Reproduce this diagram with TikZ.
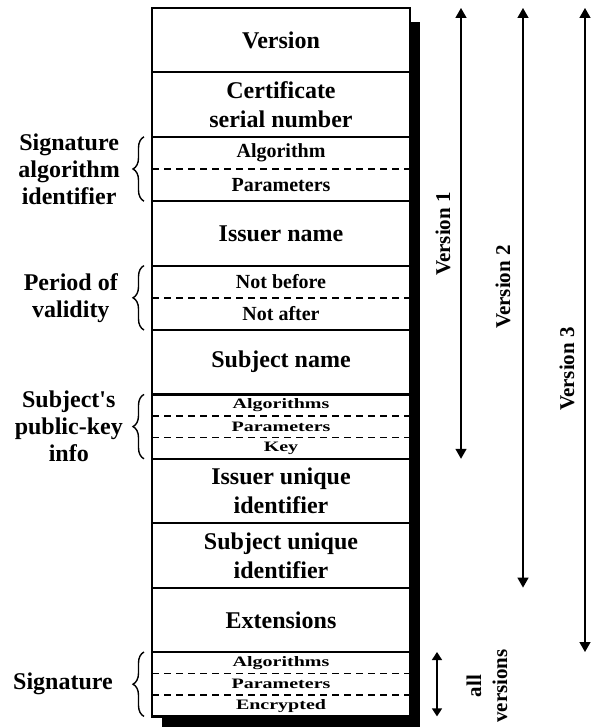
\documentclass[tikz,border=0pt]{standalone}
\usepackage{fontspec}
\setmainfont{Liberation Serif}
\usepackage{graphicx}
\usepackage{tikz}
\usetikzlibrary{calc,positioning,arrows.meta,decorations.pathreplacing}

\newcommand{\fldfont}{\fontsize{24}{29}\selectfont\bfseries}
\newcommand{\prtfont}{\fontsize{20}{24}\selectfont\bfseries}
\newcommand{\lblfont}{\fontsize{24}{27}\selectfont\bfseries}
\newcommand{\verfont}{\fontsize{21}{26}\selectfont\bfseries}
\newcommand{\squash}[1]{\scalebox{1}[0.72]{\prtfont #1}}

\tikzset{
  field/.style={draw, line width=2.2pt, fill=white, minimum width=258pt,
    minimum height=64.4pt, inner sep=0pt, outer sep=0pt, align=center, font=\fldfont},
  part/.style={inner sep=0pt, font=\prtfont},
  divider/.style={line width=1.5pt, dash pattern=on 7pt off 5pt},
  curly/.style={decorate, decoration={brace, amplitude=11pt}, line width=1.4pt},
  lbl/.style={align=center, font=\lblfont, inner sep=0pt},
  verarrow/.style={line width=1.4pt, {Triangle[width=11pt,length=10pt]}-{Triangle[width=11pt,length=10pt]}},
  allarrow/.style={line width=1.4pt, {Triangle[width=10pt,length=8pt]}-{Triangle[width=10pt,length=8pt]}},
  verlbl/.style={rotate=90, align=center, font=\verfont, inner sep=0pt}
}

\begin{document}
\begin{tikzpicture}[x=1pt, y=-1pt]
    \useasboundingbox (0,0) rectangle (592,727);

    % shadow behind the certificate
    \fill (162,22) rectangle (420,727);

    \node [field] (ver) at (281,40.2) {Version};
    \node [field, below=0pt of ver] (cert) {Certificate\\serial number};
    \node [field, below=0pt of cert] (sigalg) {};
    \node [field, below=0pt of sigalg] (iss) {Issuer name};
    \node [field, below=0pt of iss] (period) {};
    \node [field, below=0pt of period] (subj) {Subject name};
    \node [field, below=0pt of subj] (spki) {};
    \node [field, below=0pt of spki] (iuid) {Issuer unique\\identifier};
    \node [field, below=0pt of iuid] (suid) {Subject unique\\identifier};
    \node [field, below=0pt of suid] (ext) {Extensions};
    \node [field, below=0pt of ext] (sig) {};

    % split fields
    \draw [divider] (sigalg.west) -- (sigalg.east);
    \node [part] (alg) at ($(sigalg.north)!0.25!(sigalg.south)$) {Algorithm};
    \node [part] (par) at ($(sigalg.north)!0.75!(sigalg.south)$) {Parameters};

    \draw [divider] (period.west) -- (period.east);
    \node [part] (nb) at ($(period.north)!0.25!(period.south)$) {Not before};
    \node [part] (na) at ($(period.north)!0.75!(period.south)$) {Not after};

    \draw [divider] ($(spki.north west)!1/3!(spki.south west)$) -- ($(spki.north east)!1/3!(spki.south east)$);
    \draw [divider] ($(spki.north west)!2/3!(spki.south west)$) -- ($(spki.north east)!2/3!(spki.south east)$);
    \node [part] (pkalg) at ($(spki.north)!1/6!(spki.south)$) {\squash{Algorithms}};
    \node [part] (pkpar) at ($(spki.north)!1/2!(spki.south)$) {\squash{Parameters}};
    \node [part] (pkkey) at ($(spki.north)!5/6!(spki.south)$) {\squash{Key}};

    \draw [divider] ($(sig.north west)!1/3!(sig.south west)$) -- ($(sig.north east)!1/3!(sig.south east)$);
    \draw [divider] ($(sig.north west)!2/3!(sig.south west)$) -- ($(sig.north east)!2/3!(sig.south east)$);
    \node [part] (sgalg) at ($(sig.north)!1/6!(sig.south)$) {\squash{Algorithms}};
    \node [part] (sgpar) at ($(sig.north)!1/2!(sig.south)$) {\squash{Parameters}};
    \node [part] (sgenc) at ($(sig.north)!5/6!(sig.south)$) {\squash{Encrypted}};

    % braces and labels on the left
    \draw [curly] ($(sigalg.south west)+(-8pt,0)$) -- ($(sigalg.north west)+(-8pt,0)$);
    \node [lbl, left=32pt of sigalg] (sigalglbl) {Signature\\algorithm\\identifier};

    \draw [curly] ($(period.south west)+(-8pt,0)$) -- ($(period.north west)+(-8pt,0)$);
    \node [lbl, left=34pt of period] (periodlbl) {Period of\\validity};

    \draw [curly] ($(spki.south west)+(-8pt,0)$) -- ($(spki.north west)+(-8pt,0)$);
    \node [lbl, left=29pt of spki] (spkilbl) {Subject\textquotesingle s\\public-key\\info};

    \draw [curly] ($(sig.south west)+(-8pt,0)$) -- ($(sig.north west)+(-8pt,0)$);
    \node [lbl, left=39pt of sig] (siglbl) {Signature};

    % version ranges
    \coordinate (v0) at (437,0);
    \coordinate (v1) at (461,0);
    \coordinate (v2) at (523,0);
    \coordinate (v3) at (585,0);

    \draw [verarrow] (v1 |- ver.north) -- (v1 |- spki.south);
    \draw [verarrow] (v2 |- ver.north) -- (v2 |- suid.south);
    \draw [verarrow] (v3 |- ver.north) -- (v3 |- ext.south);
    \draw [allarrow] (v0 |- sig.north) -- (v0 |- sig.south);

    \node [verlbl] (v1lbl) at (443,234) {Version 1};
    \node [verlbl] (v2lbl) at (503,287) {Version 2};
    \node [verlbl] (v3lbl) at (567,369) {Version 3};
    \node [verlbl] (alllbl) at (487,686) {all\\versions};

\end{tikzpicture}
\end{document}
